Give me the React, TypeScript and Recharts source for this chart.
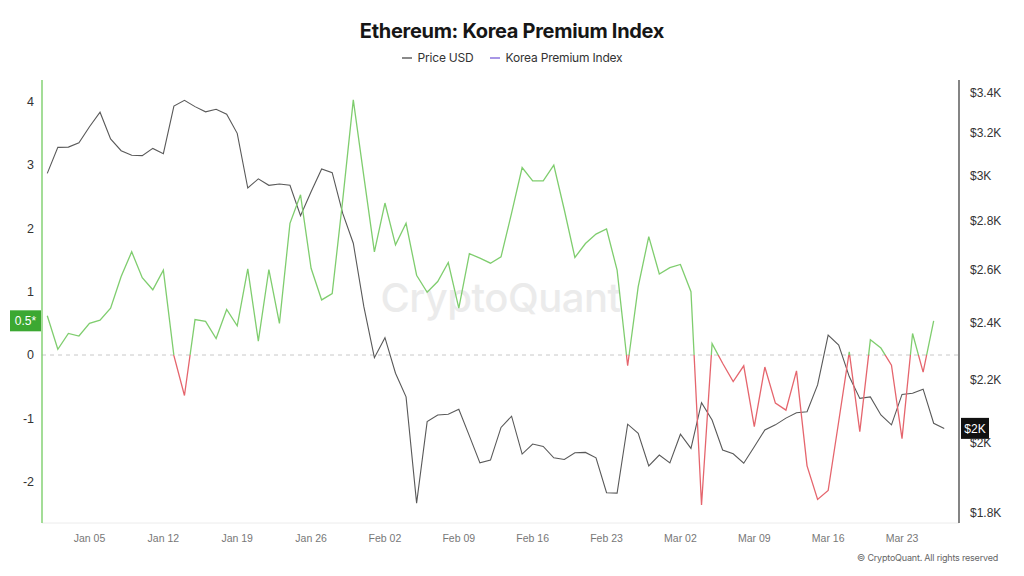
import React from 'react';
import { ComposedChart, Line, XAxis, YAxis, ReferenceLine } from 'recharts';

// Daily values, Jan 01 .. Mar 27
const priceUsd: number[] = [
  3009, 3130, 3131, 3152, 3229, 3301, 3170, 3114, 3093, 3091,
  3125, 3100, 3332, 3361, 3329, 3303, 3316, 3291, 3197, 2943,
  2984, 2955, 2961, 2955, 2822, 2926, 3029, 3012, 2832, 2707,
  2459, 2276, 2346, 2223, 2145, 1826, 2066, 2087, 2089, 2105,
  2022, 1941, 1949, 2048, 2083, 1967, 1997, 1990, 1956, 1951,
  1971, 1972, 1956, 1855, 1854, 2058, 2030, 1932, 1964, 1941,
  2027, 1984, 2126, 2071, 1979, 1968, 1940, 1989, 2040, 2056,
  2077, 2094, 2097, 2184, 2355, 2320, 2212, 2140, 2145, 2087,
  2056, 2153, 2157, 2170, 2061, 2045,
];

const koreaPremium: (number | null)[] = [
  0.62, 0.09, 0.34, 0.3, 0.5, 0.55, 0.74, 1.24, 1.63, 1.22,
  1.03, 1.34, -0.01, -0.64, 0.56, 0.53, 0.26, 0.72, 0.46, 1.36,
  0.22, 1.35, 0.5, 2.08, 2.53, 1.37, 0.87, 0.97, 2.45, 4.03,
  2.82, 1.63, 2.4, 1.74, 2.08, 1.26, 0.99, 1.16, 1.46, 0.74,
  1.6, 1.53, 1.45, 1.55, 2.24, 2.96, 2.75, 2.75, 3.0, 2.29,
  1.54, 1.76, 1.91, 1.99, 1.34, -0.17, 1.08, 1.87, 1.28, 1.38,
  1.43, 1.0, -2.37, 0.18, -0.13, -0.42, -0.17, -1.13, -0.19, -0.76,
  -0.87, -0.25, -1.75, -2.28, -2.14, -1.05, 0.05, -1.21, 0.24, 0.11,
  -0.16, -1.32, 0.34, -0.27, 0.54, null,
];

const tickIndices = [4, 11, 18, 25, 32, 39, 46, 53, 60, 67, 74, 81];
const tickLabels = ['Jan 05', 'Jan 12', 'Jan 19', 'Jan 26', 'Feb 02', 'Feb 09', 'Feb 16', 'Feb 23', 'Mar 02', 'Mar 09', 'Mar 16', 'Mar 23'];
const leftTicks = [-2, -1, 0, 1, 2, 3, 4];
const rightTicks = [1800, 2000, 2200, 2400, 2600, 2800, 3000, 3200, 3400];

const rows = priceUsd.map((p, i) => ({ i, price: p, kpi: koreaPremium[i] ?? null }));

const kpiVals = koreaPremium.filter((v): v is number => v !== null);
const kpiMax = Math.max(...kpiVals);
const kpiMin = Math.min(...kpiVals);
const zeroOffset = kpiMax / (kpiMax - kpiMin);
const lastKpi = kpiVals[kpiVals.length - 1];
const lastPrice = priceUsd[priceUsd.length - 1];

const GREEN = '#7fcd6e';
const RED = '#e5656d';
const TICK_FONT = '"Liberation Sans", Arial, sans-serif';
const UI_FONT = 'Inter, "Liberation Sans", Arial, sans-serif';

const fmtPrice = (v: number) => `$${Math.round(v / 100) / 10}K`;

const LeftBadge = (props: any) => {
  const vb = props.viewBox;
  if (!vb) return null;
  const x = vb.x;
  const y = vb.y;
  return (
    <g>
      <rect x={x - 32} y={y - 10.5} width={31} height={21} fill="#3ca832" />
      <text x={x - 16.5} y={y + 4.5} textAnchor="middle" fill="#fff" fontSize={12} fontFamily={TICK_FONT}>
        {`${lastKpi.toFixed(1)}*`}
      </text>
    </g>
  );
};

const RightBadge = (props: any) => {
  const vb = props.viewBox;
  if (!vb) return null;
  const x = vb.x + vb.width;
  const y = vb.y;
  return (
    <g>
      <rect x={x + 2} y={y - 10.5} width={28} height={21} fill="#111" />
      <text x={x + 16} y={y + 4.5} textAnchor="middle" fill="#fff" fontSize={12} fontFamily={TICK_FONT}>
        {fmtPrice(lastPrice)}
      </text>
    </g>
  );
};

export default function App() {
  return (
    <div style={{ position: 'absolute', left: 0, top: 0, width: 1024, height: 576, background: '#fff', overflow: 'hidden' }}>
      <div style={{ position: 'absolute', left: 0, top: 18, width: 1024, textAlign: 'center', fontFamily: UI_FONT, fontWeight: 700, fontSize: 20, lineHeight: '26px', color: '#161616', letterSpacing: -0.3 }}>
        Ethereum: Korea Premium Index
      </div>
      <div style={{ position: 'absolute', left: 0, top: 51, width: 1024, display: 'flex', justifyContent: 'center', alignItems: 'center', fontFamily: UI_FONT, fontSize: 12, lineHeight: '14px', color: '#333', letterSpacing: -0.2 }}>
        <span style={{ display: 'inline-block', width: 10, height: 2, background: '#8a8a8a', marginRight: 6 }} />
        <span style={{ marginRight: 16 }}>Price USD</span>
        <span style={{ display: 'inline-block', width: 10, height: 2, background: '#a897e6', marginRight: 6 }} />
        <span>Korea Premium Index</span>
      </div>
      <div style={{ position: 'absolute', left: 0, top: 273, width: 1001, textAlign: 'center', fontFamily: UI_FONT, fontWeight: 500, fontSize: 40, color: '#ebebeb', letterSpacing: -0.5 }}>
        CryptoQuant
      </div>
      <div style={{ position: 'absolute', left: 0, top: 0 }}>
        <ComposedChart width={1024} height={576} data={rows} margin={{ top: 80, right: 0, bottom: 23, left: 0 }}>
          <defs>
            <linearGradient id="kpiGrad" x1="0" y1="0" x2="0" y2="1">
              <stop offset={zeroOffset} stopColor={GREEN} />
              <stop offset={zeroOffset} stopColor={RED} />
            </linearGradient>
          </defs>
          <XAxis
            dataKey="i"
            type="number"
            domain={[-0.5, 86.4]}
            ticks={tickIndices}
            tickFormatter={(v: number) => tickLabels[tickIndices.indexOf(v)] ?? ''}
            axisLine={{ stroke: '#ececec' }}
            tickLine={false}
            tickMargin={6}
            height={30}
            tick={{ fill: '#777', fontSize: 10.5, fontFamily: TICK_FONT }}
            allowDataOverflow
          />
          <YAxis
            yAxisId="left"
            orientation="left"
            width={42}
            domain={[-2.653, 4.343]}
            ticks={leftTicks}
            allowDataOverflow
            axisLine={{ stroke: '#84d274', strokeWidth: 1.5 }}
            tickLine={false}
            tick={{ fill: '#333', fontSize: 12.5, fontFamily: TICK_FONT }}
          />
          <YAxis
            yAxisId="right"
            orientation="right"
            width={65}
            scale="log"
            domain={[1772, 3466]}
            ticks={rightTicks}
            allowDataOverflow
            tickFormatter={fmtPrice}
            axisLine={{ stroke: '#333', strokeWidth: 1.2 }}
            tickLine={false}
            tickMargin={5}
            tick={{ fill: '#333', fontSize: 12, fontFamily: TICK_FONT }}
          />
          <ReferenceLine yAxisId="left" y={0} stroke="#c8c8c8" strokeDasharray="4 4" />
          <Line
            yAxisId="right"
            dataKey="price"
            type="linear"
            stroke="#595959"
            strokeWidth={1.1}
            dot={false}
            activeDot={false}
            isAnimationActive={false}
          />
          <Line
            yAxisId="left"
            dataKey="kpi"
            type="linear"
            stroke="url(#kpiGrad)"
            strokeWidth={1.3}
            dot={false}
            activeDot={false}
            connectNulls={false}
            isAnimationActive={false}
          />
          <ReferenceLine yAxisId="left" y={lastKpi} stroke="none" label={LeftBadge} />
          <ReferenceLine yAxisId="right" y={lastPrice} stroke="none" label={RightBadge} />
        </ComposedChart>
      </div>
      <div style={{ position: 'absolute', right: 26, top: 552, fontFamily: UI_FONT, fontSize: 9, color: '#666', letterSpacing: -0.2 }}>
        © CryptoQuant. All rights reserved
      </div>
    </div>
  );
}
